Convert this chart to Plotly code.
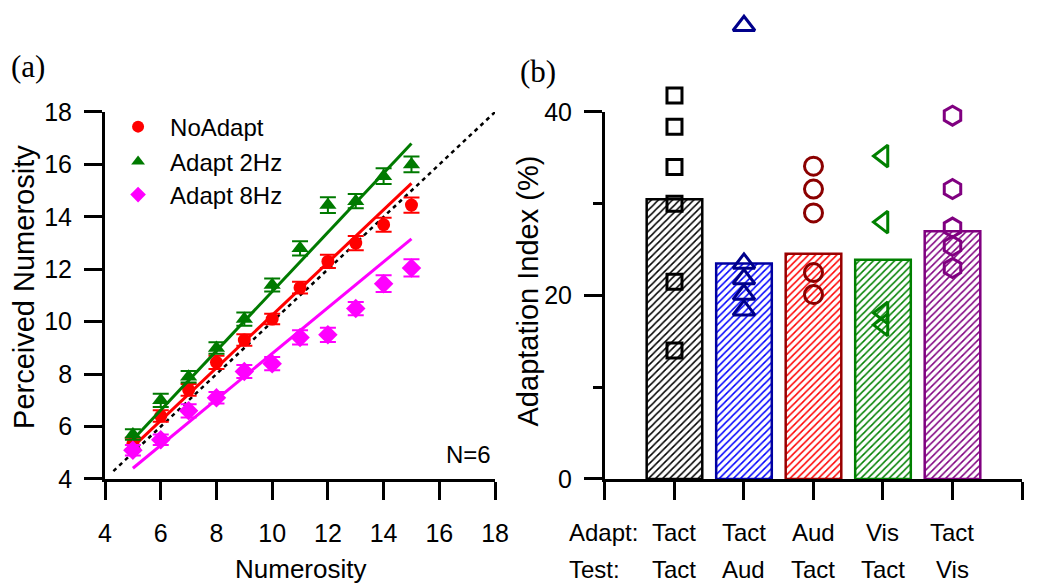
import plotly.graph_objects as go

# ---------------- Panel (a) data ----------------
numerosity = [5, 6, 7, 8, 9, 10, 11, 12, 13, 14, 15]
noadapt = [5.35, 6.4, 7.4, 8.45, 9.3, 10.1, 11.3, 12.3, 13.0, 13.7, 14.45]
noadapt_err = [0.22, 0.22, 0.22, 0.25, 0.22, 0.2, 0.22, 0.25, 0.27, 0.27, 0.29]
adapt2 = [5.7, 7.0, 7.9, 9.0, 10.1, 11.4, 12.8, 14.45, 14.6, 15.55, 16.0]
adapt2_err = [0.2, 0.25, 0.22, 0.22, 0.25, 0.25, 0.27, 0.3, 0.27, 0.3, 0.3]
adapt8 = [5.1, 5.5, 6.6, 7.1, 8.1, 8.4, 9.4, 9.5, 10.5, 11.45, 12.05]
adapt8_err = [0.2, 0.2, 0.25, 0.22, 0.25, 0.25, 0.27, 0.27, 0.25, 0.32, 0.33]

# linear fits (slope, intercept) drawn over the tested range
fit_range = [5, 15]
fit_slope = {"NoAdapt": 1.005, "Adapt 2Hz": 1.13, "Adapt 8Hz": 0.875}
fit_intercept = {"NoAdapt": 0.2, "Adapt 2Hz": -0.15, "Adapt 8Hz": 0.035}
identity_range = [4.3, 18]

# ---------------- Panel (b) data ----------------
conditions = [1, 2, 3, 4, 5]
adapt_labels = ["Tact", "Tact", "Aud", "Vis", "Tact"]
test_labels = ["Tact", "Aud", "Tact", "Tact", "Vis"]
bar_means = [30.5, 23.5, 24.55, 23.9, 27.0]
subj_tt = [41.8, 38.4, 34.0, 30.0, 21.5, 14.0]
subj_ta = [49.4, 23.5, 21.8, 20.1, 18.4]
subj_at = [34.1, 31.6, 29.0, 22.5, 20.1]
subj_vt = [35.2, 28.0, 18.1, 16.8]
subj_tv = [39.6, 31.6, 27.4, 25.4, 23.0]

SANS = "Liberation Sans, Arial, sans-serif"
SERIF = "Liberation Serif, DejaVu Serif, serif"

fig = go.Figure()

# ---- panel (a) ----
fig.add_trace(go.Scatter(
    x=identity_range, y=identity_range, mode="lines",
    line=dict(color="black", width=2.5, dash="4px,4px"),
    showlegend=False, xaxis="x", yaxis="y"))

series = [
    ("NoAdapt", noadapt, noadapt_err, "#ff0000", "circle", 13, "legend"),
    ("Adapt 2Hz", adapt2, adapt2_err, "#007a00", "triangle-up", 15, "legend2"),
    ("Adapt 8Hz", adapt8, adapt8_err, "#ff00ff", "diamond", 15, "legend3"),
]
for name, ys, err, col, sym, sz, lg in series:
    fx = fit_range
    fy = [fit_slope[name] * v + fit_intercept[name] for v in fx]
    fig.add_trace(go.Scatter(
        x=fx, y=fy, mode="lines", line=dict(color=col, width=3),
        showlegend=False, xaxis="x", yaxis="y"))
    fig.add_trace(go.Scatter(
        x=numerosity, y=ys, mode="markers", name=name,
        marker=dict(color=col, symbol=sym, size=sz),
        error_y=dict(type="data", array=err, color=col, thickness=2, width=8),
        legend=lg, xaxis="x", yaxis="y"))

# ---- panel (b) ----
bar_fg = ["#000000", "#0000ff", "#ff0000", "#008000", "#800080"]
bar_line = ["#000000", "#0000a0", "#990000", "#008000", "#800080"]
fig.add_trace(go.Bar(
    x=conditions, y=bar_means, width=0.8,
    marker=dict(color="white",
                line=dict(color=bar_line, width=2.5),
                pattern=dict(shape="/", fgcolor=bar_fg, bgcolor="white",
                             size=5, solidity=0.3)),
    showlegend=False, xaxis="x2", yaxis="y2"))

groups = [
    (subj_tt, 1, "square-open", "#000000", 15),
    (subj_ta, 2, "triangle-up-open", "#00008b", 19),
    (subj_at, 3, "circle-open", "#8b0000", 18),
    (subj_vt, 4, "triangle-left-open", "#008000", 19),
    (subj_tv, 5, "hexagon-open", "#800080", 19),
]
# individual points go on an invisible taller y-axis with the same scale,
# so that values above 40 stay visible above the axis
for vals, xi, sym, col, sz in groups:
    fig.add_trace(go.Scatter(
        x=[xi] * len(vals), y=vals, mode="markers",
        marker=dict(symbol=sym, color=col, size=sz, line=dict(width=3, color=col)),
        cliponaxis=False, showlegend=False, xaxis="x2", yaxis="y3"))

axis_common = dict(showline=True, linewidth=3, linecolor="black", ticks="outside",
                   ticklen=18, tickwidth=3, tickcolor="black", showgrid=False,
                   zeroline=False, automargin=False,
                   tickfont=dict(family=SANS, size=25, color="black"))

ydom = [0.184, 0.8092]
y2_top = 40
y3_top = y2_top * (1 - ydom[0]) / (ydom[1] - ydom[0])

fig.update_layout(
    template="none",
    font=dict(family=SANS, color="black"),
    width=1040, height=587, margin=dict(l=0, r=0, t=0, b=0, pad=0),
    paper_bgcolor="white", plot_bgcolor="rgba(0,0,0,0)",
    xaxis=dict(domain=[0.101, 0.476], range=[4, 18], tickvals=[4, 6, 8, 10, 12, 14, 16, 18],
               anchor="y", ticklabelstandoff=12, **axis_common),
    yaxis=dict(domain=ydom, range=[4, 18], tickvals=[4, 6, 8, 10, 12, 14, 16, 18],
               anchor="x", ticklabelstandoff=7, **axis_common),
    xaxis2=dict(domain=[0.5817, 0.9827], range=[0, 6], tickvals=[0, 1, 2, 3, 4, 5, 6],
                ticktext=[""] * 7, anchor="y2", **axis_common),
    yaxis2=dict(domain=ydom, range=[0, y2_top], tickvals=[0, 20, 40], anchor="x2",
                ticklabelstandoff=7,
                minor=dict(tickvals=[10, 30], ticklen=9, tickwidth=3, tickcolor="black",
                           ticks="outside"),
                **axis_common),
    yaxis3=dict(domain=[ydom[0], 1.0], range=[0, y3_top], visible=False, anchor="x2",
                automargin=False),
    bargap=0.2,
)

legend_common = dict(font=dict(family=SANS, size=24, color="black"), bgcolor="rgba(0,0,0,0)",
                     borderwidth=0, xanchor="left", yanchor="middle", itemsizing="constant",
                     itemwidth=54)
fig.update_layout(
    legend=dict(x=0.102, y=0.7836, **legend_common),
    legend2=dict(x=0.102, y=0.724, **legend_common),
    legend3=dict(x=0.102, y=0.6678, **legend_common),
)


def note(text, x, y, size, family=SANS, xref="paper", xanchor="center", angle=0):
    return dict(text=text, x=x, y=y, xref=xref, yref="paper", showarrow=False,
                xanchor=xanchor, yanchor="middle", textangle=angle,
                font=dict(family=family, size=size, color="black"))


ann = [
    note("(a)", 0.027, 0.886, 31, SERIF),
    note("(b)", 0.517, 0.879, 31, SERIF),
    note("Perceived Numerosity", 0.023, 0.511, 29, angle=-90),
    note("Adaptation Index (%)", 0.508, 0.504, 29, angle=-90),
    note("Numerosity", 0.2885, 0.03, 26),
    note("N=6", 0.474, 0.225, 24, xanchor="right"),
    note("Adapt:", 0.545, 0.092, 24, xanchor="left"),
    note("Test:", 0.545, 0.029, 24, xanchor="left"),
]
for c, a, t in zip(conditions, adapt_labels, test_labels):
    ann.append(note(a, c, 0.092, 24, xref="x2"))
    ann.append(note(t, c, 0.029, 24, xref="x2"))
fig.update_layout(annotations=ann)

fig.write_html("out.html")
